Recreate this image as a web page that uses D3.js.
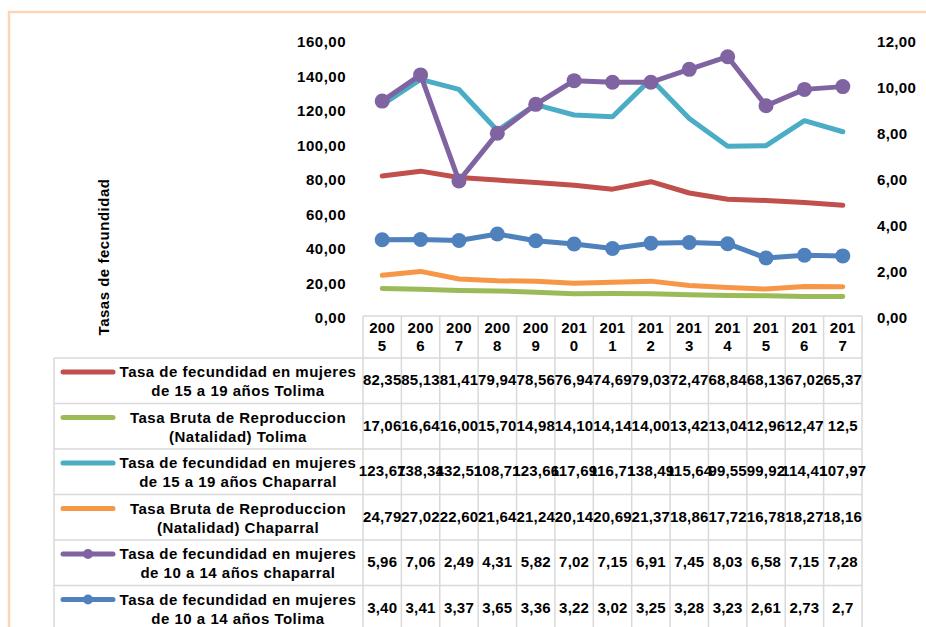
<!DOCTYPE html>
<html><head><meta charset="utf-8">
<script src="https://cdn.jsdelivr.net/npm/d3@7"></script>
<style>
html,body{margin:0;padding:0;background:#fff;}
text{font-family:"Liberation Sans",Arial,sans-serif;font-weight:bold;fill:#000;}
</style></head>
<body><svg id="c" width="926" height="627"></svg>
<script>
const years = ["2005","2006","2007","2008","2009","2010","2011","2012","2013","2014","2015","2016","2017"];
const leftTicks = [0,20,40,60,80,100,120,140,160];
const rightTicks = [0,2,4,6,8,10,12];

const seriesNames = [
  ["Tasa de fecundidad en mujeres","de 15 a 19 años Tolima"],
  ["Tasa Bruta de Reproduccion","(Natalidad) Tolima"],
  ["Tasa de fecundidad en mujeres","de 15 a 19 años Chaparral"],
  ["Tasa Bruta de Reproduccion","(Natalidad) Chaparral"],
  ["Tasa de fecundidad en mujeres","de 10 a 14 años chaparral"],
  ["Tasa de fecundidad en mujeres","de 10 a 14 años Tolima"]
];
const seriesColors = ["#C0504D","#9BBB59","#4BACC6","#F79646","#8064A2","#4F81BD"];
const seriesAxis = ["left","left","left","left","right","right"];
const seriesMarkers = [false,false,false,false,true,true];

// plotted values
const tolima15_19 = [82.35,85.13,81.41,79.94,78.56,76.94,74.69,79.03,72.47,68.84,68.13,67.02,65.37];
const tolimaNatalidad = [17.06,16.64,16.00,15.70,14.98,14.10,14.14,14.00,13.42,13.04,12.96,12.47,12.5];
const chaparral15_19 = [123.67,138.34,132.51,108.71,123.66,117.69,116.71,138.49,115.64,99.55,99.92,114.41,107.97];
const chaparralNatalidad = [24.79,27.02,22.60,21.64,21.24,20.14,20.69,21.37,18.86,17.72,16.78,18.27,18.16];
// purple line as drawn in the picture (right axis)
const chaparral10_14 = [9.43,10.57,5.96,8.03,9.29,10.32,10.25,10.25,10.81,11.36,9.23,9.94,10.06];
const tolima10_14 = [3.40,3.41,3.37,3.65,3.36,3.22,3.02,3.25,3.28,3.23,2.61,2.73,2.7];

// table labels
const tableTolima15_19 = ["82,35","85,13","81,41","79,94","78,56","76,94","74,69","79,03","72,47","68,84","68,13","67,02","65,37"];
const tableTolimaNat = ["17,06","16,64","16,00","15,70","14,98","14,10","14,14","14,00","13,42","13,04","12,96","12,47","12,5"];
const tableChap15_19 = ["123,67","138,34","132,51","108,71","123,66","117,69","116,71","138,49","115,64","99,55","99,92","114,41","107,97"];
const tableChapNat = ["24,79","27,02","22,60","21,64","21,24","20,14","20,69","21,37","18,86","17,72","16,78","18,27","18,16"];
const tableChap10_14 = ["5,96","7,06","2,49","4,31","5,82","7,02","7,15","6,91","7,45","8,03","6,58","7,15","7,28"];
const tableTolima10_14 = ["3,40","3,41","3,37","3,65","3,36","3,22","3,02","3,25","3,28","3,23","2,61","2,73","2,7"];

const seriesValues = [tolima15_19,tolimaNatalidad,chaparral15_19,chaparralNatalidad,chaparral10_14,tolima10_14];
const tableLabels = [tableTolima15_19,tableTolimaNat,tableChap15_19,tableChapNat,tableChap10_14,tableTolima10_14];

const svg = d3.select("#c");
const fmt = v => d3.format(".2f")(v).replace(".", ",");

// chart border
svg.append("path").attr("d","M9,640 L9,12 L940,12").attr("fill","none").attr("stroke","#FCD5B4").attr("stroke-width",2.5);

const plotL = 363, plotR = 862, plotT = 42, plotB = 318;
const x = d3.scaleBand().domain(years).range([plotL, plotR]);
const yL = d3.scaleLinear().domain([0,160]).range([plotB, plotT]);
const yR = d3.scaleLinear().domain([0,12]).range([plotB, plotT]);

// axes (no lines, labels only)
const axL = svg.append("g").attr("transform",`translate(${plotL},0)`)
  .call(d3.axisLeft(yL).tickValues(leftTicks).tickFormat(fmt).tickSize(0).tickPadding(17));
axL.select(".domain").remove();
axL.selectAll("text").attr("font-size",15).attr("letter-spacing","0.5px").attr("font-family","Liberation Sans, Arial, sans-serif").attr("font-weight","bold").attr("fill","#000");
const axR = svg.append("g").attr("transform",`translate(${plotR},0)`)
  .call(d3.axisRight(yR).tickValues(rightTicks).tickFormat(fmt).tickSize(0).tickPadding(15));
axR.select(".domain").remove();
axR.selectAll("text").attr("font-size",15).attr("letter-spacing","0.3px").attr("font-family","Liberation Sans, Arial, sans-serif").attr("font-weight","bold").attr("fill","#000");

// axis title
svg.append("text").attr("transform","translate(109,257) rotate(-90)").attr("text-anchor","middle")
  .attr("font-size",15).attr("letter-spacing","0.5px").text("Tasas de fecundidad");

// lines
const cx = d => x(d) + x.bandwidth()/2;
seriesValues.forEach((vals,i) => {
  const ys = seriesAxis[i]==="left" ? yL : yR;
  const line = d3.line().x((d,j)=>cx(years[j])).y(d=>ys(d));
  svg.append("path").datum(vals).attr("d",line).attr("fill","none")
    .attr("stroke",seriesColors[i]).attr("stroke-width",5).attr("stroke-linecap","round").attr("stroke-linejoin","round");
  if (seriesMarkers[i]) {
    svg.append("g").selectAll("circle").data(vals).join("circle")
      .attr("cx",(d,j)=>cx(years[j])).attr("cy",d=>ys(d)).attr("r",7.5).attr("fill",seriesColors[i]);
  }
});

// data table
const grid = "#D9D9D9";
const headTop = 316, headBot = 358, rowH = 45.5, tableL = 54;
const g = svg.append("g");
const rowsBot = headBot + rowH*seriesValues.length;
g.append("line").attr("x1",plotL).attr("x2",plotR).attr("y1",headTop).attr("y2",headTop).attr("stroke",grid).attr("stroke-width",1.5);
for (let r=0;r<=seriesValues.length;r++){
  const yy = headBot + r*rowH;
  g.append("line").attr("x1",tableL).attr("x2",plotR).attr("y1",yy).attr("y2",yy).attr("stroke",grid).attr("stroke-width",1.5);
}
g.append("line").attr("x1",tableL).attr("x2",tableL).attr("y1",headBot).attr("y2",rowsBot).attr("stroke",grid).attr("stroke-width",1.5);
years.forEach(yr => {
  g.append("line").attr("x1",x(yr)).attr("x2",x(yr)).attr("y1",headTop).attr("y2",rowsBot).attr("stroke",grid).attr("stroke-width",1.5);
});
g.append("line").attr("x1",plotR).attr("x2",plotR).attr("y1",headTop).attr("y2",rowsBot).attr("stroke",grid).attr("stroke-width",1.5);

// header years
years.forEach(yr => {
  const t = g.append("text").attr("x",cx(yr)).attr("text-anchor","middle").attr("font-size",15).attr("letter-spacing","0.3px");
  t.append("tspan").attr("x",cx(yr)).attr("y",333).text(yr.slice(0,3));
  t.append("tspan").attr("x",cx(yr)).attr("y",351).text(yr.slice(3));
});

// rows
seriesNames.forEach((nm,i) => {
  const top = headBot + i*rowH;
  const ky = top + 14;
  g.append("line").attr("x1",63).attr("x2",113).attr("y1",ky).attr("y2",ky)
    .attr("stroke",seriesColors[i]).attr("stroke-width",5).attr("stroke-linecap","round");
  if (seriesMarkers[i]) g.append("circle").attr("cx",88).attr("cy",ky).attr("r",5).attr("fill",seriesColors[i]);
  g.append("text").attr("x",238).attr("y",top+19).attr("text-anchor","middle").attr("font-size",15).attr("letter-spacing","0.5px").text(nm[0]);
  g.append("text").attr("x",238).attr("y",top+38).attr("text-anchor","middle").attr("font-size",15).attr("letter-spacing","0.5px").text(nm[1]);
  tableLabels[i].forEach((lab,j) => {
    g.append("text").attr("x",cx(years[j])).attr("y",top+27).attr("text-anchor","middle").attr("font-size",15).attr("letter-spacing","0.2px").text(lab);
  });
});
</script></body></html>
